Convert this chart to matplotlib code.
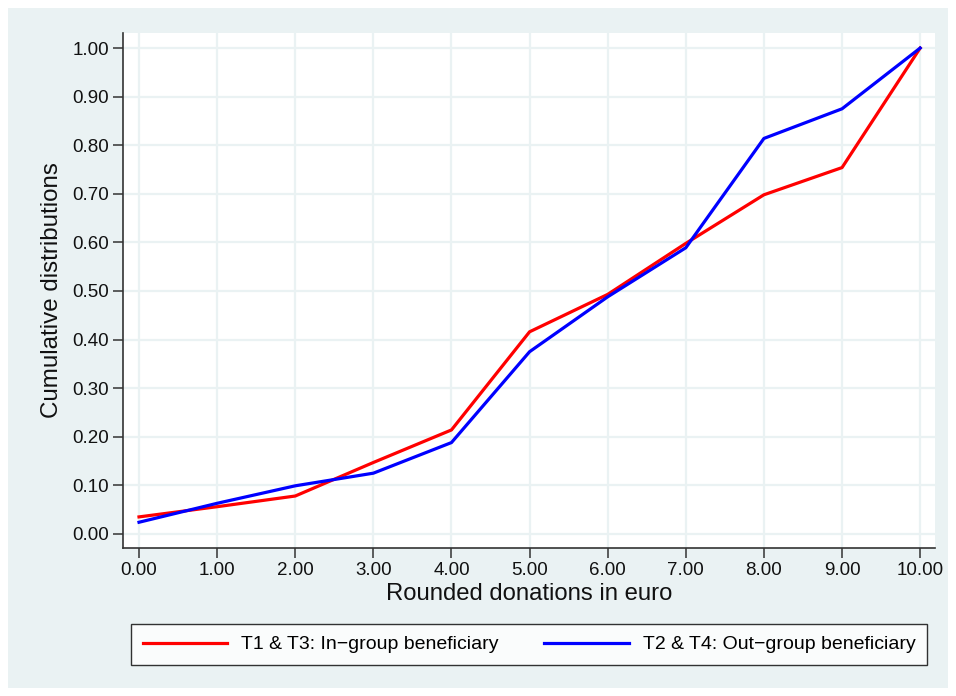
import matplotlib
matplotlib.use("Agg")
import matplotlib.pyplot as plt
from matplotlib.patches import Rectangle
from matplotlib import font_manager

donations = [0, 1, 2, 3, 4, 5, 6, 7, 8, 9, 10]
in_group = [0.035, 0.056, 0.078, 0.147, 0.214, 0.416, 0.493, 0.598, 0.698, 0.754, 1.00]
out_group = [0.024, 0.063, 0.099, 0.125, 0.188, 0.375, 0.488, 0.589, 0.814, 0.875, 1.00]
yticks = [0.0, 0.1, 0.2, 0.3, 0.4, 0.5, 0.6, 0.7, 0.8, 0.9, 1.0]
xticks = [0, 1, 2, 3, 4, 5, 6, 7, 8, 9, 10]
labels = ["T1 & T3: In\u2212group beneficiary", "T2 & T4: Out\u2212group beneficiary"]

names = {f.name for f in font_manager.fontManager.ttflist}
fam = "Liberation Sans Narrow" if "Liberation Sans Narrow" in names else "Liberation Sans"
plt.rcParams["font.family"] = [fam, "DejaVu Sans"]

W, H = 956, 696
fig = plt.figure(figsize=(W / 100, H / 100), dpi=100, facecolor="white")
bg = "#EAF2F3"
fig.patches.append(Rectangle((8 / W, 1 - 688 / H), 940 / W, 680 / H,
                             transform=fig.transFigure, facecolor=bg,
                             edgecolor="none", zorder=-10))

ax = fig.add_axes([123 / W, 1 - 548 / H, (935 - 123) / W, (548 - 33) / H])
ax.set_facecolor("white")
ax.plot(donations, in_group, color="#FF0000", lw=2.3, label=labels[0], zorder=3)
ax.plot(donations, out_group, color="#0000FF", lw=2.3, label=labels[1], zorder=4)

ax.set_xlim(-0.205, 10.19)
ax.set_ylim(-0.029, 1.031)
ax.set_xticks(xticks)
ax.set_xticklabels([f"{v:.2f}" for v in xticks])
ax.set_yticks(yticks)
ax.set_yticklabels([f"{v:.2f}" for v in yticks])
ax.grid(True, color=bg, lw=1.6, zorder=0)
ax.set_axisbelow(True)
for s in ["top", "right"]:
    ax.spines[s].set_visible(False)
for s in ["left", "bottom"]:
    ax.spines[s].set_color("#333333")
    ax.spines[s].set_linewidth(1.2)
ax.tick_params(axis="both", direction="out", length=7, width=1.1, color="#333333",
               labelsize=13.5, labelcolor="#111111", pad=3)
ax.set_xlabel("Rounded donations in euro", fontsize=17.2, color="#111111", labelpad=3)
ax.set_ylabel("Cumulative distributions", fontsize=17.4, color="#111111", labelpad=7)

leg = fig.legend(loc="center", ncol=2, mode="expand",
                 bbox_to_anchor=(131 / W, 1 - 667 / H, 796 / W, 45 / H),
                 bbox_transform=fig.transFigure,
                 fontsize=14, frameon=True, fancybox=False,
                 handlelength=4.35, handletextpad=0.72, borderaxespad=0,
                 borderpad=0.6)
leg.get_frame().set_edgecolor("black")
leg.get_frame().set_linewidth(1.0)
leg.get_frame().set_facecolor("white")

fig.savefig("out.png", dpi=100, facecolor="white")
